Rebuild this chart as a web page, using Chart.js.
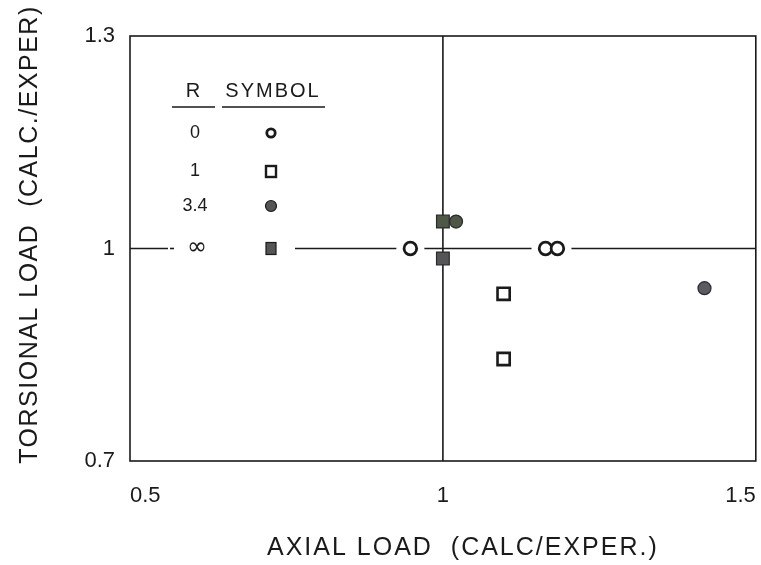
<!DOCTYPE html>
<html><head><meta charset="utf-8">
<script src="https://cdn.jsdelivr.net/npm/chart.js@4/dist/chart.umd.min.js"></script>
<style>html,body{margin:0;padding:0;background:#fff;overflow:hidden}#wrap{width:761px;height:565px;overflow:hidden}</style>
</head><body><div id="wrap"><canvas id="c" width="767" height="565"></canvas></div>
<script>
// ---- data ----
const xTicks = [0.5, 1, 1.5];
const yTicks = [0.7, 1, 1.3];
const legendR = ['0', '1', '3.4', '\u221E'];
const r0X = [0.948, 1.164, 1.183];   const r0Y = [1.0, 1.0, 1.0];
const r1X = [1.097, 1.097];          const r1Y = [0.936, 0.844];
const r34X = [1.021, 1.418];         const r34Y = [1.038, 0.944];
const rInfX = [1.0, 1.0];            const rInfY = [1.038, 0.986];
const xTitle = 'AXIAL LOAD  (CALC/EXPER.)';
const yTitle = 'TORSIONAL LOAD  (CALC./EXPER)';

const pts = (xs, ys) => xs.map((x, i) => ({x: x, y: ys[i]}));
const INK = '#1a1a1a';
const FONT = '"Liberation Sans", Arial, sans-serif';

// letter-spaced, shifted axis titles
function spacedTitle(scale, spacing, dx, dy) {
  if (scale._patched) return;
  scale._patched = true;
  const orig = scale.drawTitle;
  scale.drawTitle = function (area) {
    const ctx = this.ctx;
    ctx.save();
    ctx.letterSpacing = spacing;
    ctx.translate(dx, dy);
    orig.call(this, area);
    ctx.restore();
  };
}

const framePlugin = {
  id: 'frame',
  beforeDatasetsDraw(chart) {
    const {ctx, chartArea: a, scales} = chart;
    const x1 = scales.x.getPixelForValue(1);
    const y1 = scales.y.getPixelForValue(1);
    ctx.save();
    ctx.strokeStyle = INK;
    ctx.lineWidth = 1.6;
    ctx.strokeRect(a.left, a.top, a.right - a.left, a.bottom - a.top);
    ctx.beginPath();
    ctx.moveTo(x1, a.top); ctx.lineTo(x1, a.bottom);
    ctx.moveTo(a.left, y1); ctx.lineTo(a.right, y1);
    ctx.stroke();
    // break the reference line around open circles sitting on it
    ctx.fillStyle = '#fff';
    r0X.forEach((x, i) => {
      if (r0Y[i] === 1) {
        const px = scales.x.getPixelForValue(x);
        ctx.fillRect(px - 14, y1 - 3, 28, 6);
      }
    });
    ctx.restore();
  },
  afterDatasetsDraw(chart) {
    const {ctx, chartArea: a, scales} = chart;
    const y1 = scales.y.getPixelForValue(1);
    const cR = a.left + 63, cS = a.left + 141;
    ctx.save();
    // clear line under legend last row
    ctx.fillStyle = '#fff';
    ctx.fillRect(a.left + 38, y1 - 3, 127, 6);
    ctx.strokeStyle = INK; ctx.lineWidth = 1.6;
    ctx.beginPath(); ctx.moveTo(a.left + 40, y1); ctx.lineTo(a.left + 44, y1); ctx.stroke();
    ctx.fillStyle = INK;
    ctx.textAlign = 'center'; ctx.textBaseline = 'middle';
    ctx.font = '20px ' + FONT;
    ctx.letterSpacing = '2px';
    ctx.fillText('R', cR + 1, a.top + 55);
    ctx.fillText('SYMBOL', cS + 2, a.top + 55);
    ctx.letterSpacing = '0px';
    ctx.lineWidth = 1.4;
    ctx.beginPath();
    ctx.moveTo(a.left + 42, a.top + 71); ctx.lineTo(a.left + 85, a.top + 71);
    ctx.moveTo(a.left + 92, a.top + 71); ctx.lineTo(a.left + 195, a.top + 71);
    ctx.stroke();
    const rows = [a.top + 97, a.top + 135, a.top + 170, y1];
    ctx.font = '18px ' + FONT;
    legendR.forEach((t, i) => {
      if (i === 3) { ctx.font = '24px "DejaVu Sans", sans-serif'; ctx.fillText(t, cR + 4, rows[i] - 1); }
      else ctx.fillText(t, cR + 2, rows[i]);
    });
    ctx.lineWidth = 2.8; ctx.strokeStyle = INK;
    // open circle
    ctx.beginPath(); ctx.arc(cS, rows[0], 4.2, 0, Math.PI * 2); ctx.fillStyle = '#fff'; ctx.fill(); ctx.stroke();
    // open square
    ctx.lineWidth = 2.4;
    ctx.fillStyle = '#fff'; ctx.fillRect(cS - 5, rows[1] - 5, 10, 11); ctx.strokeRect(cS - 5, rows[1] - 5, 10, 11);
    // filled circle
    ctx.beginPath(); ctx.arc(cS, rows[2], 5.5, 0, Math.PI * 2); ctx.fillStyle = '#555'; ctx.fill();
    ctx.lineWidth = 1.2; ctx.stroke();
    // filled square
    ctx.fillStyle = '#555'; ctx.fillRect(cS - 5, rows[3] - 6, 10, 12); ctx.strokeRect(cS - 5, rows[3] - 6, 10, 12);
    ctx.restore();
  }
};

new Chart(document.getElementById('c'), {
  type: 'scatter',
  data: {
    datasets: [
      { label: 'R = 0', data: pts(r0X, r0Y), pointStyle: 'circle', pointRadius: 6.3,
        pointBackgroundColor: '#fff', pointBorderColor: INK, pointBorderWidth: 2.8 },
      { label: 'R = 1', data: pts(r1X, r1Y), pointStyle: 'rect', pointRadius: 8.6,
        pointBackgroundColor: '#fff', pointBorderColor: INK, pointBorderWidth: 2.6 },
      { label: 'R = \u221E', data: pts(rInfX, rInfY), pointStyle: 'rect', pointRadius: 9,
        pointBackgroundColor: ['#4f5747', '#555558'], pointBorderColor: '#2a2a2a', pointBorderWidth: 1.2 },
      { label: 'R = 3.4', data: pts(r34X, r34Y), pointStyle: 'circle', pointRadius: 6.5,
        pointBackgroundColor: ['#4f5747', '#5c5a62'], pointBorderColor: '#2a2a2a', pointBorderWidth: 1.2 }
    ]
  },
  options: {
    responsive: false, animation: false, devicePixelRatio: 1,
    layout: { padding: { top: 36, right: 0, left: 0, bottom: 0 } },
    plugins: { legend: { display: false }, tooltip: { enabled: false } },
    scales: {
      x: {
        type: 'linear', min: 0.5, max: 1.5,
        afterBuildTicks: s => { s.ticks = xTicks.map(v => ({value: v})); },
        afterFit: s => { s.height = 104; s.paddingLeft = 0; s.paddingRight = 0; spacedTitle(s, '2px', 20, 0); },
        grid: { display: false, drawTicks: false }, border: { display: false },
        ticks: { align: 'inner', padding: 22, color: INK, font: { family: FONT, size: 22 },
                 callback: v => String(v) },
        title: { display: true, text: xTitle, color: INK, padding: { top: 0, bottom: 2 },
                 font: { family: FONT, size: 25 } }
      },
      y: {
        type: 'linear', min: 0.7, max: 1.3,
        afterBuildTicks: s => { s.ticks = yTicks.map(v => ({value: v})); },
        afterFit: s => { s.width = 130; spacedTitle(s, '1.5px', 0, -14); },
        grid: { display: false, drawTicks: false }, border: { display: false },
        ticks: { padding: 15, color: INK, font: { family: FONT, size: 22 },
                 callback: v => String(Math.round(v * 10) / 10) },
        title: { display: true, text: yTitle, color: INK, padding: { top: 15, bottom: 15 },
                 font: { family: FONT, size: 25 } }
      }
    }
  },
  plugins: [framePlugin]
});
</script>
</body></html>
